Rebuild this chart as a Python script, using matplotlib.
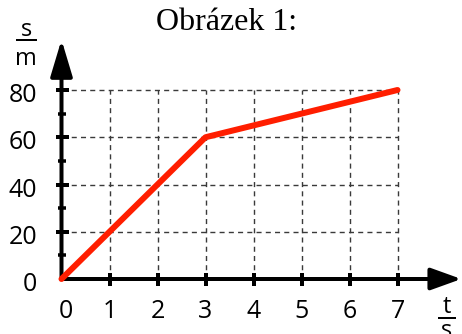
import matplotlib
matplotlib.use("Agg")
import matplotlib.pyplot as plt
from matplotlib.lines import Line2D

# data
t_values = [0, 3, 7]
s_values = [0, 60, 80]
x_ticks = [0, 1, 2, 3, 4, 5, 6, 7]
y_major = [20, 40, 60, 80]
y_minor = [10, 30, 50, 70]
y_labels = [0, 20, 40, 60, 80]
title = "Obrázek 1:"

W, H = 462, 334
fig = plt.figure(figsize=(W / 100, H / 100), dpi=100)
ax = fig.add_axes([0, 0, 1, 1])
ax.axis("off")

# pixel mapping
x0px, xs = 61.5, 48.0
y0px, ys = 279.0, 2.3625
ax.set_xlim(-x0px / xs, (W - x0px) / xs)
ax.set_ylim((y0px - H) / ys, y0px / ys)

def px(v):
    return v * 72 / 100

gridc = "#3a3a3a"
dash = (0, (3.6, 3.0))
# grid
for x in x_ticks[1:]:
    ax.plot([x, x], [0, max(y_major)], color=gridc, lw=px(1.4), linestyle=dash, zorder=1)
for y in y_major:
    ax.plot([0, max(x_ticks)], [y, y], color=gridc, lw=px(1.4), linestyle=dash, zorder=1)

# axes with arrows
aw = px(4)
ax.annotate("", xy=(8.33, 0), xytext=(0, 0),
            arrowprops=dict(arrowstyle="-|>,head_length=1.0,head_width=0.36",
                            mutation_scale=px(26), lw=aw, color="black",
                            shrinkA=0, shrinkB=0), zorder=3)
ax.annotate("", xy=(0, 101.3), xytext=(0, 0),
            arrowprops=dict(arrowstyle="-|>,head_length=1.2,head_width=0.36",
                            mutation_scale=px(26), lw=aw, color="black",
                            shrinkA=0, shrinkB=0), zorder=3)

# ticks
ax.plot(x_ticks[1:], [0] * 7, linestyle="none", marker="|", markersize=px(13),
        markeredgewidth=px(4), color="black", zorder=4)
ax.plot([0] * len(y_major), y_major, linestyle="none", marker="_", markersize=px(13),
        markeredgewidth=px(4), color="black", zorder=4)
ax.plot([0] * len(y_minor), y_minor, linestyle="none", marker="_", markersize=px(8),
        markeredgewidth=px(3.5), color="black", zorder=4)

# data line
ax.plot(t_values, s_values, color="#ff1e00", lw=px(6), solid_capstyle="round",
        solid_joinstyle="round", zorder=5)

fnt = "Open Sans"
fs = 18
for x in x_ticks:
    ax.text(x + (0.1 if x == 0 else 0), (y0px - 308) / ys, str(x), ha="center",
            va="center_baseline", fontsize=fs, family=fnt)
for y in y_labels:
    ax.text((37 - x0px) / xs, y - 2.5 / ys, str(y), ha="right", va="center_baseline",
            fontsize=fs, family=fnt)

# title
fig.text(227 / W, 1 - 23 / H, title, ha="center", va="center", fontsize=23,
         family="Liberation Serif")

# axis labels as fractions
fs2 = 17
fig.text(26 / W, 1 - 27 / H, "s", ha="center", va="center_baseline", fontsize=fs2, family=fnt)
fig.add_artist(Line2D([17 / W, 36 / W], [1 - 39.5 / H] * 2, color="black", lw=px(2)))
fig.text(26 / W, 1 - 56 / H, "m", ha="center", va="center_baseline", fontsize=fs2, family=fnt)

fig.text(447 / W, 1 - 304 / H, "t", ha="center", va="center_baseline", fontsize=fs2, family=fnt)
fig.add_artist(Line2D([439 / W, 455 / W], [1 - 317.5 / H] * 2, color="black", lw=px(2)))
fig.text(447 / W, 1 - 328 / H, "s", ha="center", va="center_baseline", fontsize=fs2, family=fnt)

fig.savefig("out.png", dpi=100)
